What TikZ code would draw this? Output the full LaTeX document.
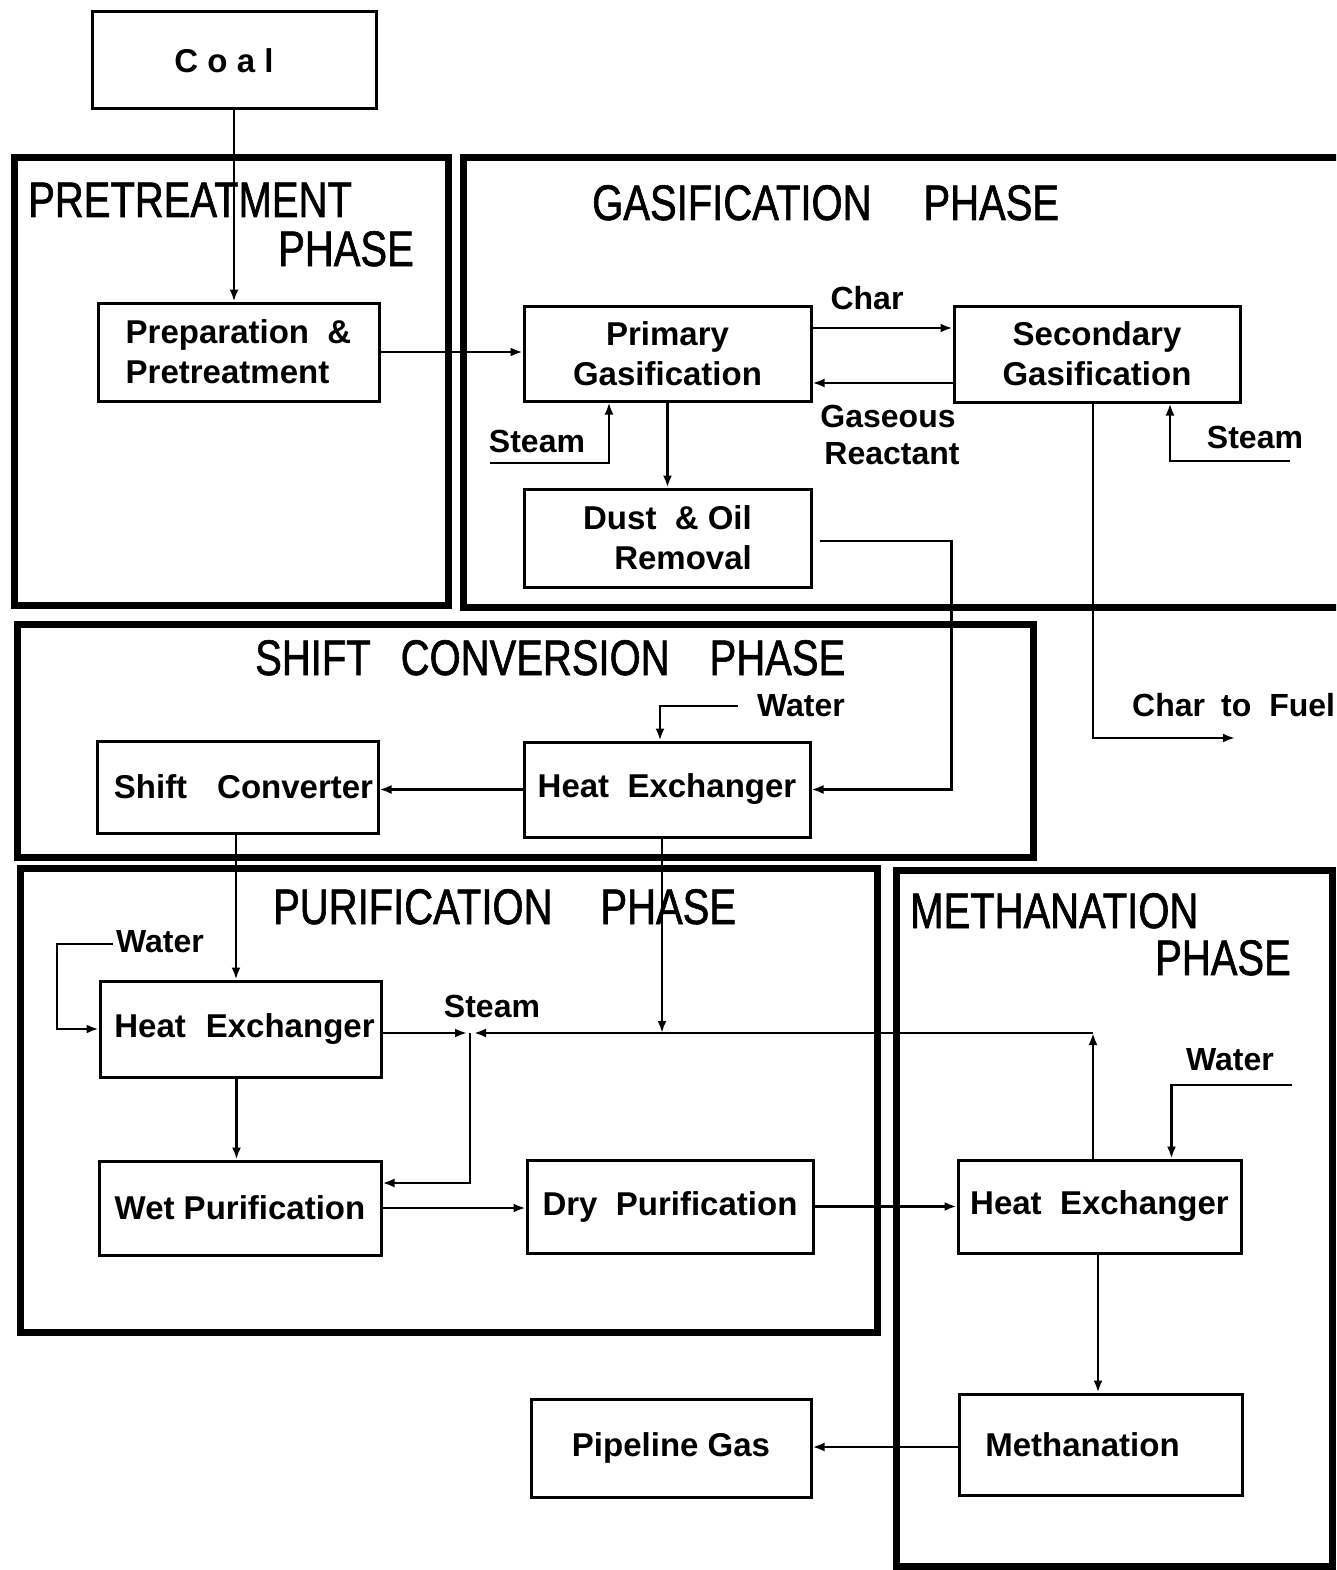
\documentclass[tikz,border=0pt]{standalone}
\usepackage{fontspec}
\setmainfont{Liberation Sans}
\newfontfamily\titlefont[FakeStretch=0.8,FakeBold=1.2]{Liberation Sans}
\usetikzlibrary{arrows.meta}

\tikzset{
  phaseframe/.style={line width=7pt, line join=miter},
  blk/.style={draw, line width=3pt, align=center, inner sep=0pt,
    font=\fontsize{33}{40}\selectfont\bfseries},
  lbl/.style={inner sep=0pt, font=\fontsize{32}{37}\selectfont\bfseries},
  ttl/.style={inner sep=0pt, anchor=base west, font=\fontsize{50}{56}\selectfont\titlefont},
  flow/.style={line width=2.5pt, -{Latex[length=12pt,width=9pt]}},
  pipe/.style={line width=2.5pt}
}

\begin{document}
\begin{tikzpicture}[x=1pt,y=-1pt]
\useasboundingbox (0,0) rectangle (1336,1570);
\clip (0,0) rectangle (1336,1570);
\fill[white] (0,0) rectangle (1336,1570);

% phase frames
\draw[phaseframe] (14,158) rectangle (448,605);
\draw[phaseframe] (463,158) rectangle (1360,607);
\draw[phaseframe] (17,624) rectangle (1033,857);
\draw[phaseframe] (20,868) rectangle (877,1332);
\draw[phaseframe] (896,870) rectangle (1332,1566);

% phase titles
\node[ttl] (tpre1) at (28,217) {PRETREATMENT};
\node[ttl] (tpre2) at (278,266) {PHASE};
\node[ttl] (tgas) at (592,220) {GASIFICATION\hspace{52pt}PHASE};
\node[ttl] (tshift) at (255,675) {SHIFT\hspace{30pt}CONVERSION\hspace{40pt}PHASE};
\node[ttl] (tpur) at (273,924) {PURIFICATION\hspace{48pt}PHASE};
\node[ttl] (tmeth1) at (910,928) {METHANATION};
\node[ttl] (tmeth2) at (1155,975) {PHASE};

% process blocks
\node[blk, minimum width=284pt, minimum height=97pt] (coal) at (234,60.5) {C o a l\hspace*{20pt}};
\node[blk, minimum width=281pt, minimum height=98pt, align=left] (prep) at (238.5,352) {Preparation \ \&\\Pretreatment};
\node[blk, minimum width=287pt, minimum height=95pt] (prim) at (667.5,353.5) {Primary\\Gasification};
\node[blk, minimum width=286pt, minimum height=96pt] (sec) at (1097,354) {Secondary\\Gasification};
\node[blk, minimum width=287pt, minimum height=98pt, align=right] (dust) at (667.5,538) {Dust\ \ \&\ Oil\\Removal};
\node[blk, minimum width=286pt, minimum height=95pt] (shx) at (667,789.5) {Heat\ \ Exchanger};
\node[blk, minimum width=281pt, minimum height=92pt] (sconv) at (237.5,787) {\hspace*{12pt}Shift\hspace{30pt}Converter};
\node[blk, minimum width=281pt, minimum height=96pt] (phx) at (240.5,1029) {\hspace*{8pt}Heat\hspace{20pt}Exchanger};
\node[blk, minimum width=282pt, minimum height=94pt] (wet) at (240,1208) {Wet Purification};
\node[blk, minimum width=286pt, minimum height=93pt] (dry) at (670,1206.5) {Dry\ \ Purification};
\node[blk, minimum width=283pt, minimum height=93pt] (mhx) at (1099.5,1206.5) {Heat\ \ Exchanger};
\node[blk, minimum width=283pt, minimum height=101pt] (meth) at (1100.5,1444.5) {Methanation\hspace*{36pt}};
\node[blk, minimum width=280pt, minimum height=98pt] (pipe) at (671,1448) {Pipeline Gas};

% stream labels
\node[lbl] (lchar) at (867,298) {Char};
\node[lbl, align=left] (lgas) at (890,435) {Gaseous\\\hspace*{4pt}Reactant};
\node[lbl] (lsteamA) at (537,441) {Steam};
\node[lbl] (lsteamB) at (1255,437) {Steam};
\node[lbl, anchor=base west] (lfuel) at (1132,716) {Char\hspace{16pt}to\hspace{18pt}Fuel};
\node[lbl] (lwaterA) at (801,706) {Water};
\node[lbl] (lwaterB) at (160,942) {Water};
\node[lbl] (lsteamC) at (492,1006) {Steam};
\node[lbl] (lwaterC) at (1230,1060) {Water};

% free ends and junctions
\coordinate (stmA) at (490,463);
\coordinate (stmB) at (1290,461);
\coordinate (fuel) at (1235,738);
\coordinate (wA) at (738,706);
\coordinate (wB) at (113,944);
\coordinate (wC) at (1292,1085);
\coordinate (junc) at (470,1033);

% gasification streams
\draw[flow] (coal.south) -- (coal.south |- prep.north);
\draw[flow] (prep.east) -- (prep.east -| prim.west);
\draw[flow] ([yshift=25.5pt]prim.east) -- ([yshift=25.5pt]prim.east -| sec.west);
\draw[flow] ([yshift=-29.5pt]prim.east -| sec.west) -- ([yshift=-29.5pt]prim.east);
\draw[flow] (stmA) -| ([xshift=-58.5pt]prim.south);
\draw[flow] (stmB) -| ([xshift=73pt]sec.south);
\draw[flow] (prim.south) -- (prim.south |- dust.north);
\draw[flow] ([xshift=7pt,yshift=-3pt]dust.east) -- ++(132,0) |- (shx.east);
\draw[flow] ([xshift=-4pt]sec.south) |- (fuel);

% shift conversion streams
\draw[flow] (wA) -| ([xshift=-7pt]shx.north);
\draw[flow] (shx.west) -- (shx.west -| sconv.east);
\draw[flow] ([xshift=-1.5pt]sconv.south) -- ([xshift=-1.5pt]sconv.south |- phx.north);

% purification streams
\draw[flow] (wB) -- ++(-56,0) |- (phx.west);
\draw[flow] (phx.east |- junc) -- ([xshift=-3pt]junc);
\draw[flow] ([xshift=-6.5pt]mhx.north) -- ([xshift=-6.5pt]mhx.north |- junc);
\draw[flow] ([xshift=-6.5pt]mhx.north |- junc) -- ([xshift=4pt]junc);
\draw[flow] ([xshift=-5pt]shx.south) -- ([xshift=-5pt]shx.south |- junc);
\draw[flow] (junc) |- ([yshift=25pt]wet.east);
\draw[flow] ([xshift=-4pt]phx.south) -- ([xshift=-4pt]phx.south |- wet.north);
\draw[flow] (wet.east) -- (wet.east -| dry.west);
\draw[flow] (dry.east) -- (dry.east -| mhx.west);

% methanation streams
\draw[flow] (wC) -| ([xshift=72pt]mhx.north);
\draw[flow] ([xshift=-1.5pt]mhx.south) -- ([xshift=-1.5pt]mhx.south |- meth.north);
\draw[flow] ([yshift=-2.5pt]meth.west) -- ([yshift=-2.5pt]meth.west -| pipe.east);
\end{tikzpicture}
\end{document}
